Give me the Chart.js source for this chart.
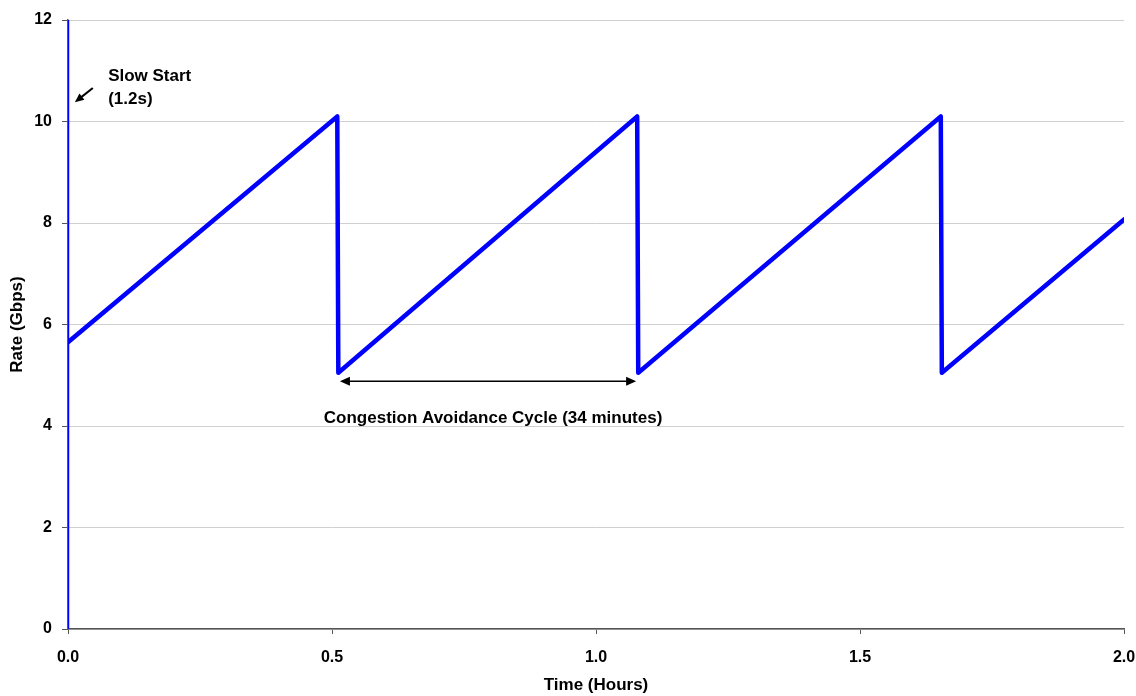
<!DOCTYPE html>
<html>
<head>
<meta charset="utf-8">
<script src="https://cdn.jsdelivr.net/npm/chart.js@4.4.0/dist/chart.umd.min.js"></script>
<style>
  html, body { margin: 0; padding: 0; background: #fff; }
  #wrap { width: 1136px; height: 696px; }
</style>
</head>
<body>
<div id="wrap"><canvas id="myChart" width="1136" height="696"></canvas></div>
<script>
// sawtooth rate over time (hours, Gbps)
const times = [0, 0.51, 0.512, 1.078, 1.08, 1.653, 1.655, 2.0];
const rates = [5.65, 10.1, 5.05, 10.1, 5.05, 10.1, 5.05, 8.07];

// slow start spike at t=0
const slowTimes = [0, 0];
const slowRates = [0, 12];

const xTicks = [0, 0.5, 1.0, 1.5, 2.0];
const yTicks = [0, 2, 4, 6, 8, 10, 12];

const tickFont = { family: '"Liberation Sans", Arial, sans-serif', size: 16, weight: 'bold' };
const titleFont = { family: '"Liberation Sans", Arial, sans-serif', size: 17, weight: 'bold' };

// text + arrows drawn in data units
const notes = {
    cycleArrow: { from: 0.515, to: 1.076, y: 4.88 },
    cycleText: { x: 0.805, y: 4.16, text: 'Congestion Avoidance Cycle (34 minutes)' },
    slowText: { x: 0.076, y: [10.9, 10.43], lines: ['Slow Start', '(1.2s)'] },
    slowArrow: { x1: 0.047, y1: 10.66, x2: 0.013, y2: 10.38 }
};

function arrowHead(ctx, x, y, angle, len, wid) {
    ctx.save();
    ctx.translate(x, y);
    ctx.rotate(angle);
    ctx.beginPath();
    ctx.moveTo(0, 0);
    ctx.lineTo(-len, -wid);
    ctx.lineTo(-len, wid);
    ctx.closePath();
    ctx.fill();
    ctx.restore();
}

const notesPlugin = {
    id: 'notes',
    afterDatasetsDraw(chart) {
        const ctx = chart.ctx;
        const xs = chart.scales.x, ys = chart.scales.y;
        ctx.save();
        ctx.fillStyle = '#000';
        ctx.strokeStyle = '#000';
        ctx.lineWidth = 1.5;

        // double arrow under the cycle
        const a = notes.cycleArrow;
        const ax1 = xs.getPixelForValue(a.from), ax2 = xs.getPixelForValue(a.to), ay = ys.getPixelForValue(a.y);
        ctx.beginPath();
        ctx.moveTo(ax1 + 6, ay);
        ctx.lineTo(ax2 - 6, ay);
        ctx.stroke();
        arrowHead(ctx, ax1, ay, Math.PI, 10, 4.5);
        arrowHead(ctx, ax2, ay, 0, 10, 4.5);

        // slow start arrow
        const s = notes.slowArrow;
        const sx1 = xs.getPixelForValue(s.x1), sy1 = ys.getPixelForValue(s.y1);
        const sx2 = xs.getPixelForValue(s.x2), sy2 = ys.getPixelForValue(s.y2);
        const ang = Math.atan2(sy2 - sy1, sx2 - sx1);
        ctx.lineWidth = 2;
        ctx.beginPath();
        ctx.moveTo(sx1, sy1);
        ctx.lineTo(sx2 - 5 * Math.cos(ang), sy2 - 5 * Math.sin(ang));
        ctx.stroke();
        arrowHead(ctx, sx2, sy2, ang, 9, 4);

        ctx.font = 'bold 17px "Liberation Sans", Arial, sans-serif';
        ctx.textBaseline = 'middle';
        ctx.textAlign = 'center';
        const c = notes.cycleText;
        ctx.fillText(c.text, xs.getPixelForValue(c.x), ys.getPixelForValue(c.y));

        ctx.textAlign = 'left';
        const t = notes.slowText;
        t.lines.forEach((line, i) => {
            ctx.fillText(line, xs.getPixelForValue(t.x), ys.getPixelForValue(t.y[i]));
        });
        ctx.restore();
    }
};

const ctx = document.getElementById('myChart').getContext('2d');
const myChart = new Chart(ctx, {
    type: 'line',
    data: {
        datasets: [
            {
                label: 'Slow start',
                data: slowTimes.map((t, i) => ({ x: t, y: slowRates[i] })),
                borderColor: '#0000ff',
                borderWidth: 2.5,
                pointRadius: 0,
                tension: 0
            },
            {
                label: 'Rate',
                data: times.map((t, i) => ({ x: t, y: rates[i] })),
                borderColor: '#0000ff',
                borderWidth: 4.5,
                borderJoinStyle: 'round',
                borderCapStyle: 'round',
                pointRadius: 0,
                tension: 0
            }
        ]
    },
    options: {
        responsive: false,
        animation: false,
        layout: { padding: { top: 20, right: 12, left: 0, bottom: 0 } },
        plugins: {
            legend: { display: false },
            tooltip: { enabled: false }
        },
        scales: {
            x: {
                type: 'linear',
                min: 0,
                max: 2,
                afterBuildTicks: (axis) => { axis.ticks = xTicks.map(v => ({ value: v })); },
                afterFit: (axis) => {
                    axis.height = 67;
                    axis.paddingLeft = 0;
                    axis.paddingRight = 0;
                },
                ticks: {
                    color: '#000',
                    font: tickFont,
                    padding: 14,
                    maxRotation: 0,
                    callback: (v) => Number(v).toFixed(1)
                },
                grid: {
                    drawOnChartArea: false,
                    tickLength: 5,
                    tickColor: '#555'
                },
                border: { color: '#555', width: 1.5 },
                title: {
                    display: true,
                    text: 'Time (Hours)',
                    color: '#000',
                    font: titleFont,
                    padding: { top: 4, bottom: 0 }
                }
            },
            y: {
                min: 0,
                max: 12,
                afterBuildTicks: (axis) => { axis.ticks = yTicks.map(v => ({ value: v })); },
                afterFit: (axis) => { axis.width = 68; },
                ticks: {
                    color: '#000',
                    font: tickFont,
                    padding: 10
                },
                grid: {
                    color: '#d0d0d0',
                    lineWidth: 1,
                    tickLength: 6,
                    tickColor: '#555'
                },
                border: { color: '#555', width: 1.5 },
                title: {
                    display: true,
                    text: 'Rate (Gbps)',
                    color: '#000',
                    font: titleFont,
                    padding: { top: 7, bottom: 0 }
                }
            }
        }
    },
    plugins: [notesPlugin]
});
</script>
</body>
</html>
